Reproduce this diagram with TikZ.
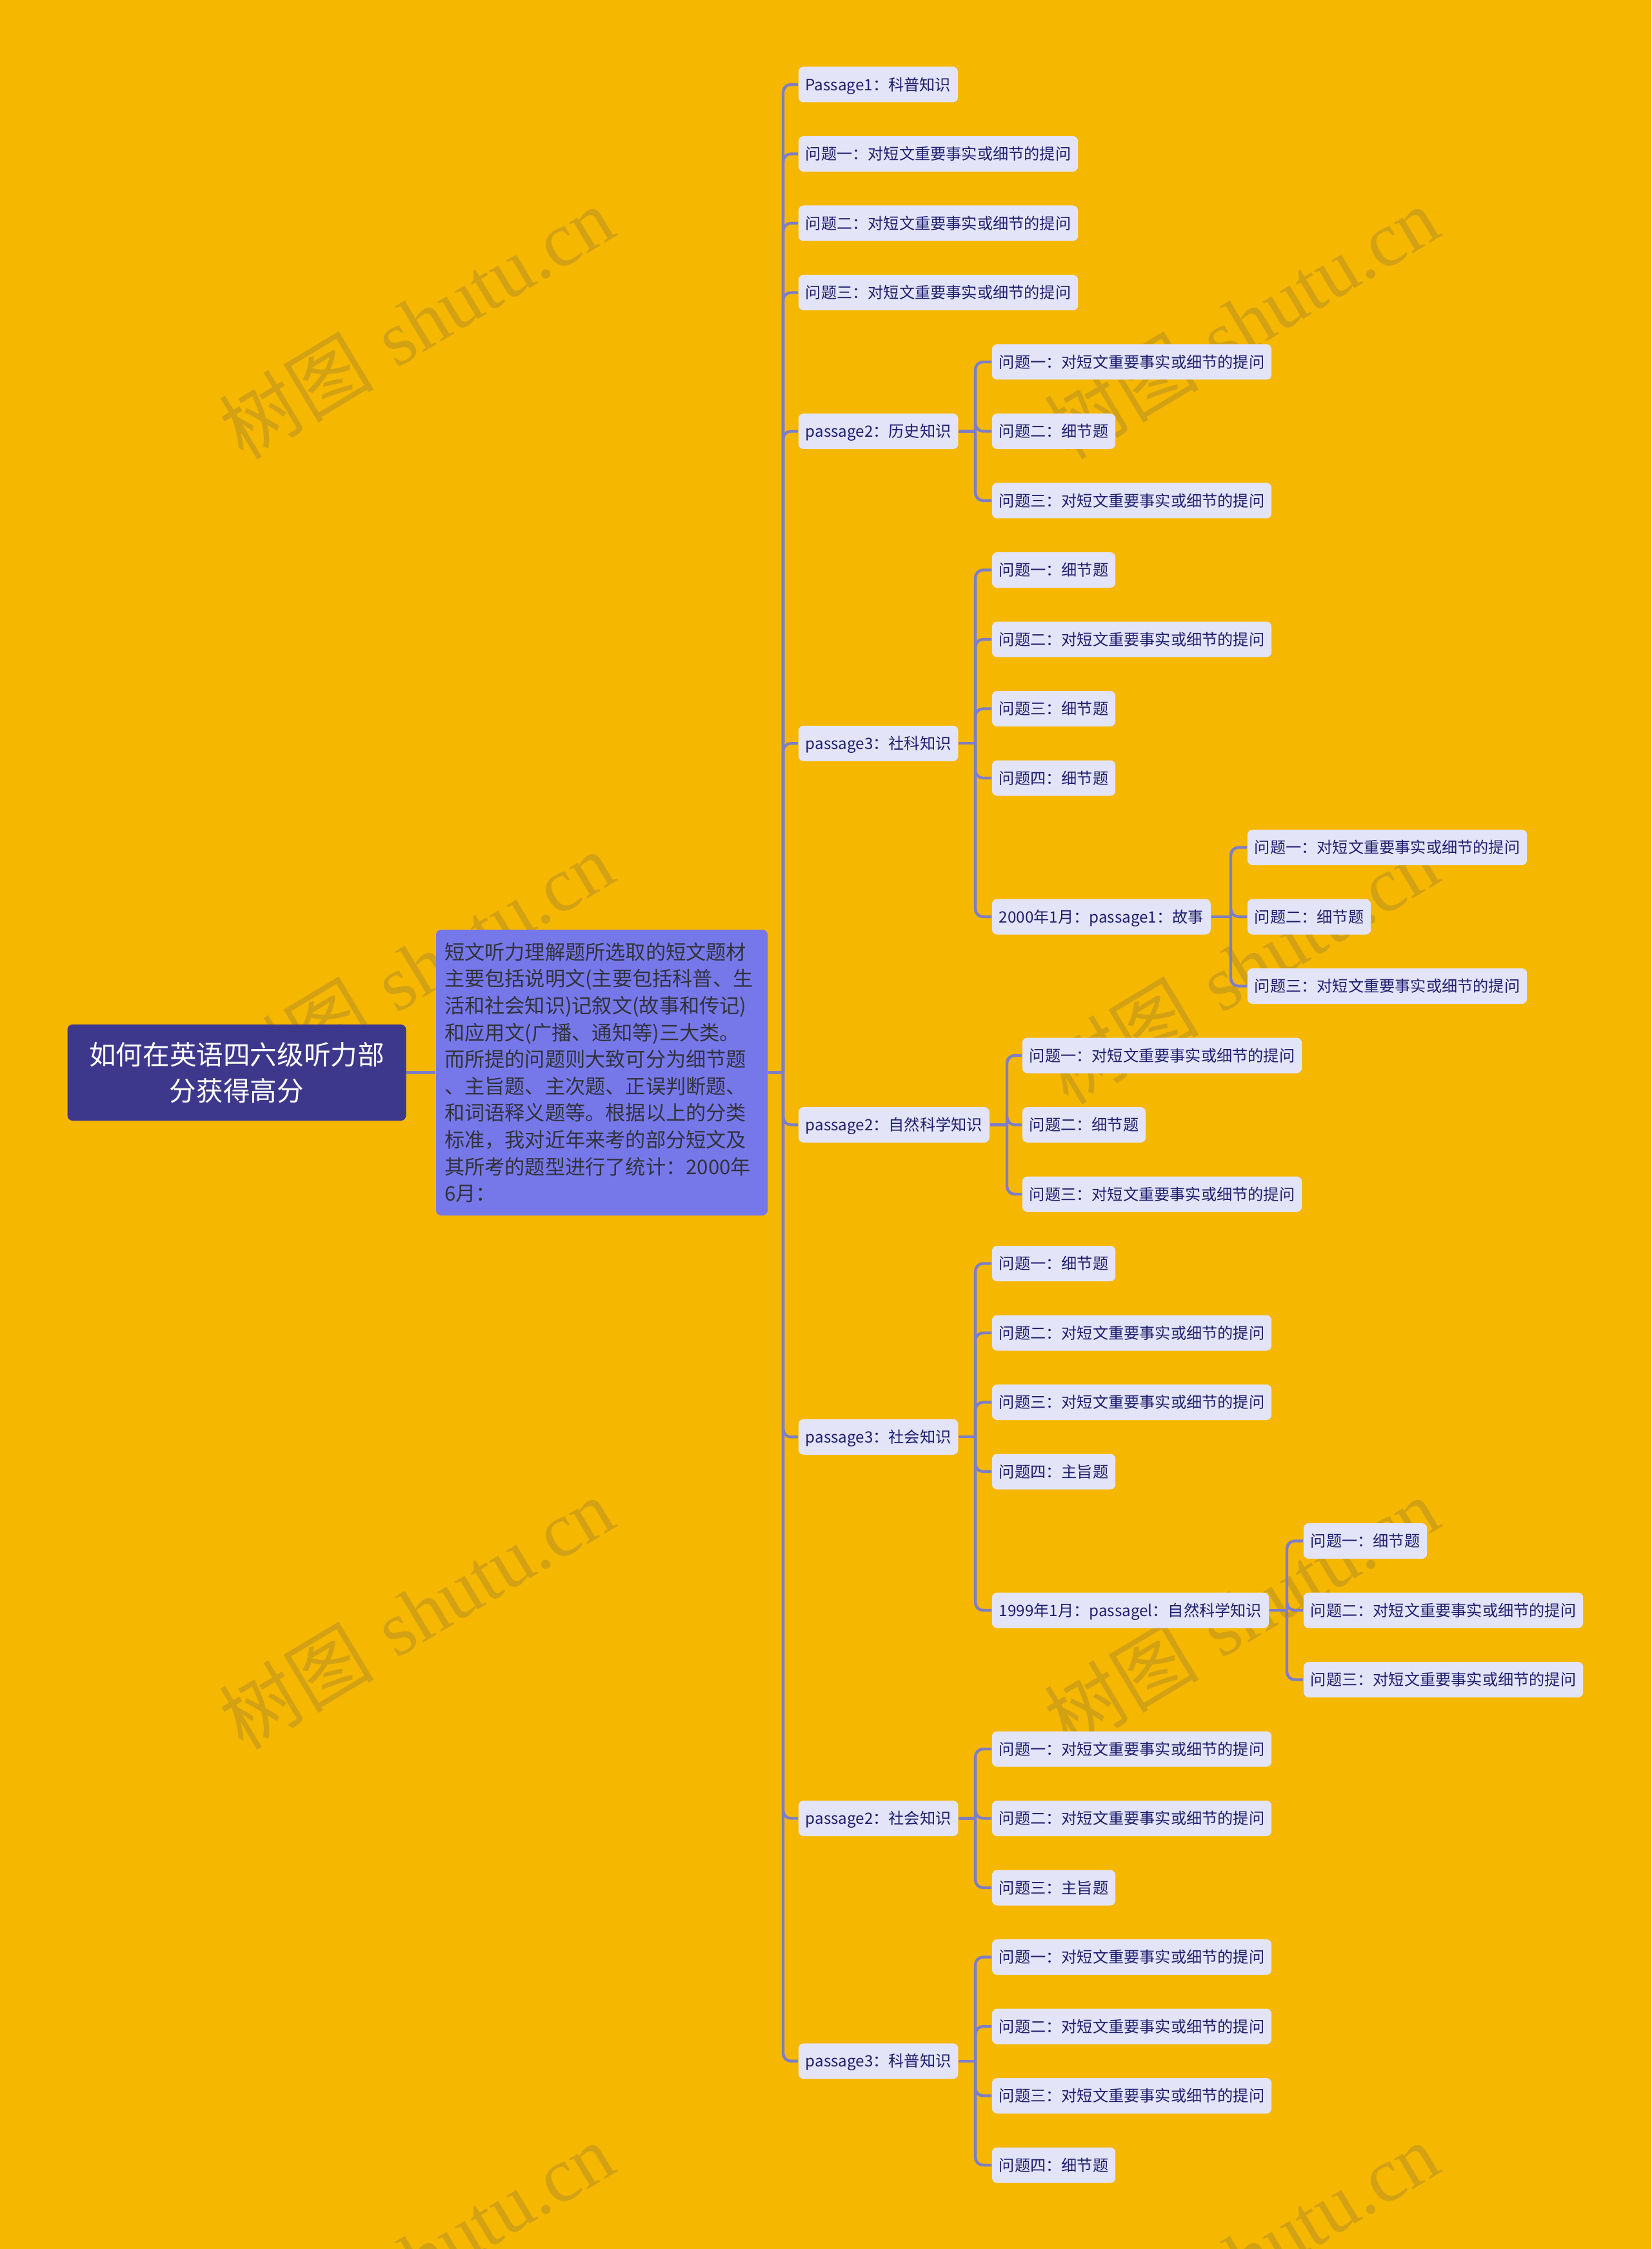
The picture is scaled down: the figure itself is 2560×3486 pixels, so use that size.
\documentclass[tikz,border=0pt]{standalone}
\usepackage{fontspec}
\newfontfamily\cjk{Noto Sans CJK SC}
\newfontfamily\wmserif{Liberation Serif}
\definecolor{bgc}{RGB}{245,183,0}
\definecolor{leafc}{RGB}{228,228,248}
\definecolor{leaft}{RGB}{30,30,110}
\definecolor{connc}{RGB}{125,125,200}
\definecolor{longc}{RGB}{118,120,234}
\definecolor{rootc}{RGB}{62,56,140}
\definecolor{longt}{RGB}{50,50,60}
\definecolor{wmc}{RGB}{150,120,60}
\begin{document}
\begin{tikzpicture}[x=0.25pt,y=-0.25pt,
  leaf/.style={fill=leafc, text=leaft, rounded corners=2pt, font=\cjk\fontsize{6.05pt}{7pt}\selectfont,
    inner xsep=2.75pt, inner ysep=0pt, minimum height=13.75pt, anchor=west, text height=4.6pt, text depth=0pt},
  conn/.style={draw=connc, line width=1.1pt, rounded corners=3pt},
  wm/.style={text=wmc, opacity=0.35, rotate=31, font=\fontsize{30pt}{32pt}\selectfont}
]
\useasboundingbox (0,0) rectangle (2560,3486);
\fill[bgc] (0,0) rectangle (2560,3486);

% watermarks
\foreach \wx in {645,1924}{
  \foreach \wy in {500,1500,2500,3500}{
    \node[wm] at (\wx,\wy) {{\cjk 树图} {\wmserif shutu.cn}};
  }
}

% root and intro
\node[fill=rootc, text=white, rounded corners=2pt, minimum width=131.25pt, minimum height=37.25pt,
  align=center, font=\cjk\fontsize{10.4pt}{13.9pt}\selectfont, inner sep=0pt] (root) at (367,1662.5)
  {如何在英语四六级听力部\\分获得高分};
\node[fill=longc, text=longt, rounded corners=2pt, text width=122pt, inner xsep=3.25pt, inner ysep=0pt,
  minimum height=110.75pt, align=left, font=\cjk\fontsize{7.8pt}{10.4pt}\selectfont] (intro) at (933,1662.5)
  {短文听力理解题所选取的短文题材\\主要包括说明文(主要包括科普、生\\活和社会知识)记叙文(故事和传记)\\和应用文(广播、通知等)三大类。\\而所提的问题则大致可分为细节题\\、主旨题、主次题、正误判断题、\\和词语释义题等。根据以上的分类\\标准，我对近年来考的部分短文及\\其所考的题型进行了统计：2000年\\6月：};
\draw[conn] (root.east) -- (intro.west);
\coordinate (t1) at (1214,1662.5);
\draw[conn] (intro.east) -- (t1);

% level 1
\node[leaf] (a1) at (1237,131) {Passage1：科普知识};
\node[leaf] (a2) at (1237,238.5) {问题一：对短文重要事实或细节的提问};
\node[leaf] (a3) at (1237,346) {问题二：对短文重要事实或细节的提问};
\node[leaf] (a4) at (1237,453.5) {问题三：对短文重要事实或细节的提问};
\node[leaf] (a5) at (1237,668.5) {passage2：历史知识};
\node[leaf] (a6) at (1237,1152.25) {passage3：社科知识};
\node[leaf] (a7) at (1237,1743.5) {passage2：自然科学知识};
\node[leaf] (a8) at (1237,2227.25) {passage3：社会知识};
\node[leaf] (a9) at (1237,2818.5) {passage2：社会知识};
\node[leaf] (a10) at (1237,3194.75) {passage3：科普知识};
\foreach \n in {a1,a2,a3,a4,a5,a6,a7,a8,a9,a10}{
  \draw[conn] (t1) |- (\n.west);
}

% passage2 history
\node[leaf] (b1) at (1537,561) {问题一：对短文重要事实或细节的提问};
\node[leaf] (b2) at (1537,668.5) {问题二：细节题};
\node[leaf] (b3) at (1537,776) {问题三：对短文重要事实或细节的提问};
\coordinate (tb) at (1512,668.5);
\draw[conn] (a5.east) -- (tb);
\foreach \n in {b1,b2,b3}{ \draw[conn] (tb) |- (\n.west); }

% passage3 social science
\node[leaf] (c1) at (1537,883.5) {问题一：细节题};
\node[leaf] (c2) at (1537,991) {问题二：对短文重要事实或细节的提问};
\node[leaf] (c3) at (1537,1098.5) {问题三：细节题};
\node[leaf] (c4) at (1537,1206) {问题四：细节题};
\node[leaf] (c5) at (1537,1421) {2000年1月：passage1：故事};
\coordinate (tc) at (1512,1152.25);
\draw[conn] (a6.east) -- (tc);
\foreach \n in {c1,c2,c3,c4,c5}{ \draw[conn] (tc) |- (\n.west); }

\node[leaf] (d1) at (1933,1313.5) {问题一：对短文重要事实或细节的提问};
\node[leaf] (d2) at (1933,1421) {问题二：细节题};
\node[leaf] (d3) at (1933,1528.5) {问题三：对短文重要事实或细节的提问};
\coordinate (td) at (1908,1421);
\draw[conn] (c5.east) -- (td);
\foreach \n in {d1,d2,d3}{ \draw[conn] (td) |- (\n.west); }

% passage2 natural science
\node[leaf] (e1) at (1584,1636) {问题一：对短文重要事实或细节的提问};
\node[leaf] (e2) at (1584,1743.5) {问题二：细节题};
\node[leaf] (e3) at (1584,1851) {问题三：对短文重要事实或细节的提问};
\coordinate (te) at (1561,1743.5);
\draw[conn] (a7.east) -- (te);
\foreach \n in {e1,e2,e3}{ \draw[conn] (te) |- (\n.west); }

% passage3 society
\node[leaf] (f1) at (1537,1958.5) {问题一：细节题};
\node[leaf] (f2) at (1537,2066) {问题二：对短文重要事实或细节的提问};
\node[leaf] (f3) at (1537,2173.5) {问题三：对短文重要事实或细节的提问};
\node[leaf] (f4) at (1537,2281) {问题四：主旨题};
\node[leaf] (f5) at (1537,2496) {1999年1月：passagel：自然科学知识};
\coordinate (tf) at (1512,2227.25);
\draw[conn] (a8.east) -- (tf);
\foreach \n in {f1,f2,f3,f4,f5}{ \draw[conn] (tf) |- (\n.west); }

\node[leaf] (g1) at (2020,2388.5) {问题一：细节题};
\node[leaf] (g2) at (2020,2496) {问题二：对短文重要事实或细节的提问};
\node[leaf] (g3) at (2020,2603.5) {问题三：对短文重要事实或细节的提问};
\coordinate (tg) at (1995,2496);
\draw[conn] (f5.east) -- (tg);
\foreach \n in {g1,g2,g3}{ \draw[conn] (tg) |- (\n.west); }

% passage2 society
\node[leaf] (h1) at (1537,2711) {问题一：对短文重要事实或细节的提问};
\node[leaf] (h2) at (1537,2818.5) {问题二：对短文重要事实或细节的提问};
\node[leaf] (h3) at (1537,2926) {问题三：主旨题};
\coordinate (th) at (1512,2818.5);
\draw[conn] (a9.east) -- (th);
\foreach \n in {h1,h2,h3}{ \draw[conn] (th) |- (\n.west); }

% passage3 popular science
\node[leaf] (k1) at (1537,3033.5) {问题一：对短文重要事实或细节的提问};
\node[leaf] (k2) at (1537,3141) {问题二：对短文重要事实或细节的提问};
\node[leaf] (k3) at (1537,3248.5) {问题三：对短文重要事实或细节的提问};
\node[leaf] (k4) at (1537,3356) {问题四：细节题};
\coordinate (tk) at (1512,3194.75);
\draw[conn] (a10.east) -- (tk);
\foreach \n in {k1,k2,k3,k4}{ \draw[conn] (tk) |- (\n.west); }
\end{tikzpicture}
\end{document}
